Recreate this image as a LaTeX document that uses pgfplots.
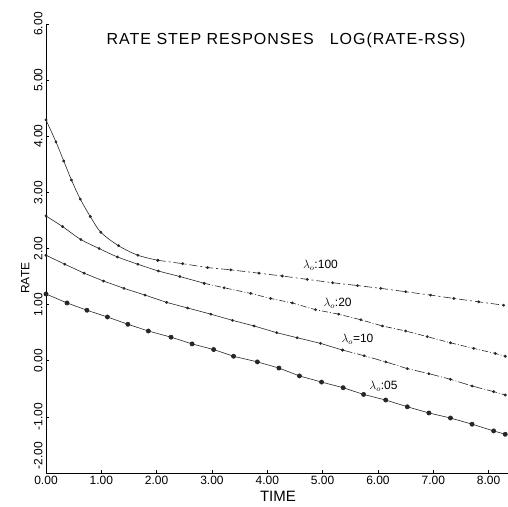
\documentclass[border=0pt]{standalone}
\usepackage{fontspec}
\setmainfont{Liberation Sans}
\usepackage{pgfplots}
\pgfplotsset{compat=1.18}

\begin{document}
\begin{tikzpicture}
\begin{axis}[
    at={(46pt,-473pt)}, anchor=south west,
    scale only axis,
    width=462pt, height=449pt,
    xmin=0, xmax=8.35,
    ymin=-2, ymax=6,
    axis lines=left,
    axis line style={-, line width=0.8pt},
    xtick={0,1,...,8},
    ytick={-1,0,...,6},
    extra y ticks={-2},
    extra y tick style={yticklabel style={anchor=south west}},
    tick align=inside,
    major tick length=3pt,
    tick style={black, line width=0.6pt},
    /pgf/number format/assume math mode=true,
    /pgf/number format/fixed,
    /pgf/number format/fixed zerofill,
    /pgf/number format/precision=2,
    every tick label/.append style={font=\fontsize{12}{12}\selectfont},
    yticklabel style={rotate=90, anchor=south},
    xlabel={TIME},
    xlabel style={font=\fontsize{15}{15}\selectfont, at={(axis description cs:0.502,0)}, anchor=north, yshift=-15pt},
    ylabel={RATE},
    ylabel style={font=\fontsize{12}{12}\selectfont, at={(axis description cs:-0.045,0.434)}, anchor=center},
    clip=false,
]

% lambda_0 = 1.00, steep part
\addplot[black!85, line width=0.6pt, smooth, mark=*, mark size=1.1pt] coordinates {
    (0,4.29)(0.18,3.90)(0.32,3.56)(0.46,3.22)(0.62,2.88)(0.80,2.57)(0.99,2.29)(1.31,2.05)(1.66,1.88)(2.02,1.79)
};
% lambda_0 = 1.00, tail
\addplot[black!85, line width=0.6pt, dash pattern=on 8pt off 3pt on 2pt off 3pt, mark=*, mark size=1.1pt, mark options={solid}] coordinates {
    (2.02,1.79)(2.47,1.73)(2.92,1.66)(3.34,1.62)(3.85,1.56)(4.27,1.51)(4.72,1.45)(5.18,1.39)(5.63,1.34)(6.05,1.29)(6.50,1.23)(6.95,1.17)(7.37,1.11)(7.82,1.05)(8.27,0.99)
};

% lambda_0 = .20
\addplot[black!85, line width=0.6pt, smooth, mark=*, mark size=1.1pt] coordinates {
    (0,2.58)(0.30,2.39)(0.63,2.16)(0.96,2.00)(1.29,1.85)(1.66,1.72)(2.03,1.60)(2.42,1.50)(2.86,1.38)
};
\addplot[black!85, line width=0.6pt, dash pattern=on 6pt off 2pt on 1pt off 2pt, mark=*, mark size=1.1pt, mark options={solid}] coordinates {
    (2.86,1.38)(3.22,1.30)(3.70,1.20)(4.06,1.11)(4.45,1.03)(4.87,0.91)(5.29,0.83)(5.69,0.73)(6.08,0.62)(6.50,0.53)(6.89,0.43)(7.31,0.32)(7.73,0.22)(8.12,0.13)(8.30,0.08)
};

% lambda_0 = .10
\addplot[black!85, line width=0.6pt, mark=*, mark size=1.1pt] coordinates {
    (0,1.88)(0.34,1.72)(0.69,1.56)(1.04,1.42)(1.41,1.29)(1.79,1.17)(2.18,1.04)(2.56,0.94)(2.98,0.83)(3.37,0.72)(3.76,0.62)(4.17,0.50)(4.54,0.41)(4.96,0.31)(5.36,0.19)
};
\addplot[black!85, line width=0.6pt, dash pattern=on 10pt off 2pt on 1pt off 2pt, mark=*, mark size=1.1pt, mark options={solid}] coordinates {
    (5.36,0.19)(5.75,0.09)(6.14,-0.02)(6.53,-0.14)(6.92,-0.23)(7.31,-0.33)(7.70,-0.45)(8.09,-0.55)(8.30,-0.61)
};

% lambda_0 = .05
\addplot[black!85, line width=0.6pt, mark=*, mark size=2.1pt] coordinates {
    (0,1.19)(0.38,1.03)(0.74,0.90)(1.11,0.78)(1.48,0.65)(1.85,0.53)(2.26,0.42)(2.64,0.30)(3.03,0.20)(3.39,0.08)(3.82,-0.02)(4.21,-0.13)(4.58,-0.27)(4.98,-0.38)(5.37,-0.48)(5.74,-0.60)(6.14,-0.70)(6.53,-0.82)(6.92,-0.93)(7.31,-1.02)(7.70,-1.13)(8.09,-1.25)(8.30,-1.31)
};

\node[font=\fontsize{16}{16}\selectfont\addfontfeatures{LetterSpace=6}] at (axis cs:4.34,5.71) {RATE STEP RESPONSES\quad LOG(RATE-RSS)};
\node[font=\fontsize{12}{12}\selectfont] at (axis cs:4.96,1.70) {$\lambda_o$:100};
\node[font=\fontsize{12}{12}\selectfont] at (axis cs:5.27,1.03) {$\lambda_o$:20};
\node[font=\fontsize{12}{12}\selectfont] at (axis cs:5.63,0.385) {$\lambda_o$=10};
\node[font=\fontsize{12}{12}\selectfont] at (axis cs:6.10,-0.45) {$\lambda_o$:05};

\end{axis}
\pgfresetboundingbox
\path[use as bounding box] (0pt,0pt) rectangle (508pt,-506pt);
\end{tikzpicture}
\end{document}
